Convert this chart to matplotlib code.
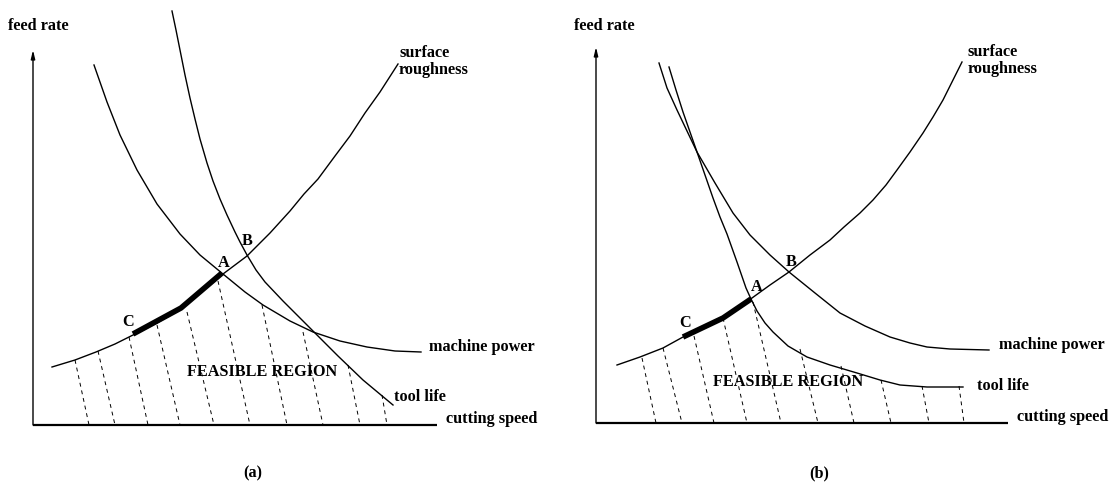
import matplotlib
matplotlib.use('Agg')
import matplotlib.pyplot as plt

# diagram is drawn in image-pixel coordinates (x right, y down)
FONT = 'Liberation Serif'
FS = 11.7

# ---------- panel (a) ----------
a_axis_x = 33
a_axis_y = 425
a_axis_top = 50
a_axis_right = 437

a_rough_x = [52, 75, 96, 115, 133, 157, 181, 200, 223, 247, 270, 290, 304, 318, 335, 350, 365, 380, 398]
a_rough_y = [367, 360, 352, 344, 335, 323, 309, 293, 274, 256, 233, 211, 194, 179, 156, 136, 113, 92, 64]

a_power_x = [94, 107, 120, 137, 157, 180, 200, 223, 245, 263, 290, 313, 340, 367, 395, 421]
a_power_y = [65, 102, 135, 170, 204, 234, 255, 274, 292, 305, 321, 332, 341, 347, 351, 352]

a_tool_x = [172, 176, 180, 185, 190, 195, 200, 207, 213, 220, 227, 235, 240, 247, 256, 265, 283, 298, 313, 338, 363, 393]
a_tool_y = [11, 30, 50, 75, 98, 119, 139, 163, 181, 199, 215, 232, 242, 255, 270, 282, 301, 316, 331, 356, 380, 405]

a_thick_x = [133, 181, 222]
a_thick_y = [334, 308, 273]

a_dash_top_x = [75, 98, 129, 157, 187, 218, 262, 303, 348, 382]
a_dash_top_y = [360, 351, 337, 325, 312, 281, 305, 332, 365, 395]
a_dash_bot_x = [89, 115, 148, 180, 214, 250, 287, 323, 360, 387]

# ---------- panel (b) ----------
b_axis_x = 596
b_axis_y = 423
b_axis_top = 47
b_axis_right = 1008

b_rough_x = [617, 640, 663, 683, 703, 723, 737, 752, 770, 789, 810, 830, 844, 860, 873, 886, 897, 910, 923, 933, 943, 952, 962]
b_rough_y = [365, 357, 348, 337, 328, 318, 309, 298, 285, 272, 255, 240, 227, 213, 200, 185, 170, 152, 133, 117, 100, 82, 62]

b_power_x = [659, 667, 677, 687, 697, 715, 733, 750, 770, 789, 815, 840, 865, 890, 910, 927, 950, 989]
b_power_y = [63, 88, 110, 131, 152, 183, 213, 235, 255, 272, 293, 313, 326, 337, 343, 347, 349, 350]

b_tool_x = [669, 676, 683, 690, 697, 705, 713, 720, 727, 737, 746, 751, 757, 765, 773, 788, 807, 830, 857, 880, 900, 927, 963]
b_tool_y = [67, 90, 112, 132, 152, 175, 198, 217, 234, 262, 288, 299, 311, 323, 332, 346, 357, 365, 373, 380, 385, 387, 387]

b_thick_x = [683, 723, 751]
b_thick_y = [337, 318, 299]

b_dash_top_x = [642, 663, 694, 723, 753, 800, 841, 881, 922, 959]
b_dash_top_y = [358, 348, 336, 318, 302, 349, 366, 380, 386, 386]
b_dash_bot_x = [656, 682, 714, 747, 781, 818, 854, 891, 929, 964]

# labels: (text, x, y, ha)
a_labels = [('feed rate', 8, 26, 'left'), ('cutting speed', 446, 419, 'left'),
            ('surface', 399, 53, 'left'), ('roughness', 399, 70, 'left'),
            ('machine power', 429, 347, 'left'),
            ('tool life', 394, 397, 'left'), ('FEASIBLE REGION', 262, 372, 'center'),
            ('A', 224, 263, 'center'), ('B', 247, 241, 'center'), ('C', 128, 322, 'center'),
            ('(a)', 253, 473, 'center')]
b_labels = [('feed rate', 574, 26, 'left'), ('cutting speed', 1017, 417, 'left'),
            ('surface', 968, 52, 'left'), ('roughness', 968, 69, 'left'),
            ('machine power', 999, 345, 'left'),
            ('tool life', 977, 386, 'left'), ('FEASIBLE REGION', 788, 382, 'center'),
            ('A', 757, 287, 'center'), ('B', 791, 262, 'center'), ('C', 685, 323, 'center'),
            ('(b)', 819, 473, 'center')]


def draw_panel(ax, ax_x, ax_y, ax_top, ax_right, curves, thick_x, thick_y,
               top_x, top_y, bot_x, labels):
    # axes with arrow on feed rate
    ax.plot([ax_x, ax_right], [ax_y, ax_y], color='black', lw=1.6, solid_capstyle='butt')
    ax.annotate('', xy=(ax_x, ax_top), xytext=(ax_x, ax_y),
                arrowprops=dict(arrowstyle='-|>,head_length=0.5,head_width=0.12',
                                color='black', lw=1.0, shrinkA=0, shrinkB=0))
    for cx, cy in curves:
        ax.plot(cx, cy, color='black', lw=1.0, solid_joinstyle='round')
    ax.plot(thick_x, thick_y, color='black', lw=4.0, solid_capstyle='butt')
    for tx, ty, bx in zip(top_x, top_y, bot_x):
        ax.plot([tx, bx], [ty, ax_y], color='black', lw=0.7, ls=(0, (4, 4)))
    for txt, x, y, ha in labels:
        ax.text(x, y, txt, ha=ha, va='center', family=FONT, weight='bold', fontsize=FS)


fig = plt.figure(figsize=(11.11, 4.86), dpi=100)
ax = fig.add_axes([0, 0, 1, 1])
ax.set_xlim(0, 1111)
ax.set_ylim(486, 0)
ax.axis('off')

draw_panel(ax, a_axis_x, a_axis_y, a_axis_top, a_axis_right,
           [(a_rough_x, a_rough_y), (a_power_x, a_power_y), (a_tool_x, a_tool_y)],
           a_thick_x, a_thick_y, a_dash_top_x, a_dash_top_y, a_dash_bot_x, a_labels)
draw_panel(ax, b_axis_x, b_axis_y, b_axis_top, b_axis_right,
           [(b_rough_x, b_rough_y), (b_power_x, b_power_y), (b_tool_x, b_tool_y)],
           b_thick_x, b_thick_y, b_dash_top_x, b_dash_top_y, b_dash_bot_x, b_labels)

fig.savefig('out.png', dpi=100)
